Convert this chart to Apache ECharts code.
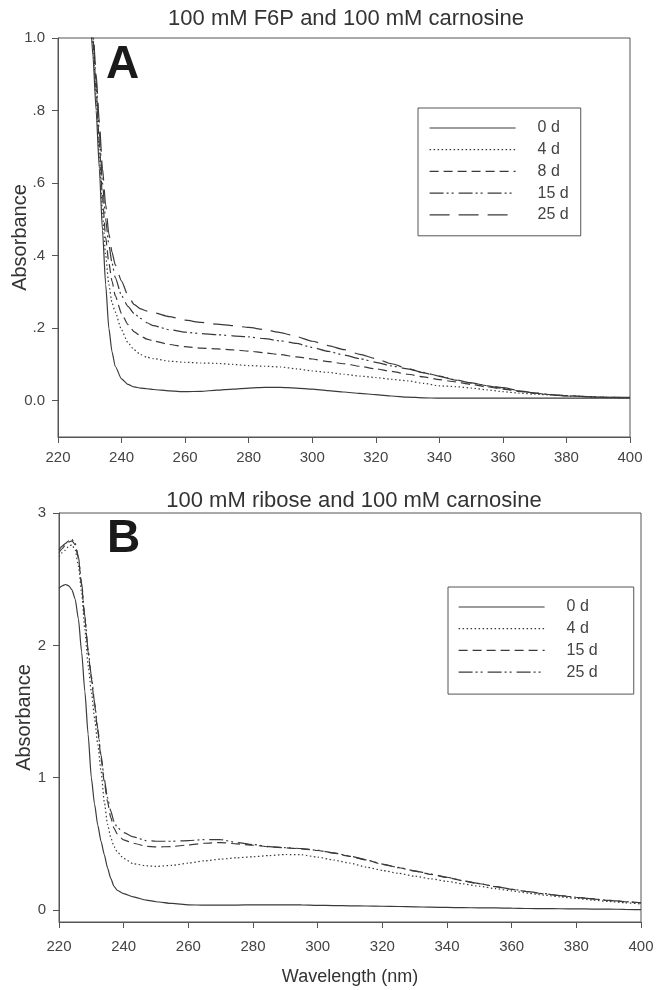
<!DOCTYPE html>
<html><head><meta charset="utf-8">
<script src="https://cdn.jsdelivr.net/npm/echarts@6/dist/echarts.min.js"></script>
<style>html,body{margin:0;padding:0;background:#fff}#c{width:657px;height:990px}</style>
</head><body><div id="c"></div>
<script>
// ---- Data ----
const titleA = '100 mM F6P and 100 mM carnosine';
const titleB = '100 mM ribose and 100 mM carnosine';
const xTicks = [220,240,260,280,300,320,340,360,380,400];
const yTicksA = [0,0.2,0.4,0.6,0.8,1.0];
const yTicksB = [0,1,2,3];
const legendA = ['0 d','4 d','8 d','15 d','25 d'];
const legendB = ['0 d','4 d','15 d','25 d'];

const wlA = [229,230,231,232,233,234,235,236,237,238,240,242,244,246,248,250,255,260,265,270,275,280,285,290,295,300,305,310,315,320,325,330,335,340,345,350,355,360,365,370,375,380,385,390,395,400];
const a0d = [1.25,1.08,0.95,0.8,0.64,0.47,0.32,0.2,0.135,0.095,0.06,0.045,0.038,0.035,0.033,0.031,0.027,0.025,0.026,0.029,0.032,0.035,0.037,0.037,0.035,0.032,0.028,0.024,0.02,0.017,0.013,0.01,0.008,0.007,0.007,0.007,0.007,0.007,0.007,0.007,0.007,0.007,0.007,0.007,0.007,0.007];
const a4d = [1.3,1.1,0.98,0.84,0.68,0.52,0.4,0.32,0.27,0.245,0.195,0.16,0.14,0.127,0.12,0.116,0.109,0.106,0.104,0.103,0.1,0.097,0.095,0.093,0.088,0.082,0.078,0.073,0.068,0.064,0.059,0.055,0.048,0.041,0.039,0.035,0.03,0.025,0.021,0.018,0.016,0.014,0.012,0.01,0.008,0.007];
const a8d = [1.3,1.12,1.0,0.86,0.71,0.56,0.45,0.38,0.33,0.29,0.24,0.21,0.19,0.178,0.17,0.165,0.155,0.149,0.145,0.143,0.14,0.137,0.132,0.127,0.121,0.115,0.108,0.102,0.095,0.088,0.081,0.073,0.066,0.058,0.052,0.045,0.038,0.032,0.026,0.021,0.017,0.014,0.012,0.01,0.009,0.008];
const a15d = [1.3,1.13,1.01,0.88,0.74,0.6,0.5,0.43,0.38,0.34,0.29,0.26,0.24,0.227,0.215,0.207,0.196,0.189,0.185,0.182,0.179,0.176,0.171,0.165,0.158,0.147,0.136,0.126,0.116,0.106,0.096,0.088,0.078,0.068,0.058,0.049,0.041,0.034,0.027,0.021,0.017,0.014,0.012,0.01,0.009,0.008];
const a25d = [1.3,1.14,1.02,0.9,0.77,0.64,0.54,0.46,0.41,0.375,0.33,0.29,0.265,0.253,0.247,0.243,0.232,0.222,0.216,0.211,0.207,0.202,0.196,0.188,0.177,0.164,0.152,0.141,0.128,0.116,0.102,0.089,0.077,0.067,0.057,0.049,0.042,0.036,0.028,0.021,0.016,0.013,0.011,0.01,0.009,0.009];

const wlB = [220,221,222,223,224,225,226,227,228,229,230,231,232,233,234,235,236,237,238,240,243,247,250,255,260,265,270,275,280,285,290,295,300,305,310,315,320,325,330,335,340,345,350,355,360,365,370,375,380,385,390,395,400];
const b0d = [2.43,2.45,2.46,2.45,2.42,2.35,2.2,1.95,1.65,1.33,1.0,0.8,0.64,0.52,0.42,0.32,0.24,0.18,0.15,0.125,0.1,0.075,0.063,0.05,0.04,0.037,0.037,0.038,0.04,0.04,0.04,0.039,0.036,0.034,0.032,0.031,0.029,0.027,0.025,0.022,0.02,0.018,0.017,0.016,0.015,0.012,0.011,0.01,0.009,0.008,0.007,0.006,0.004];
const b4d = [2.67,2.7,2.72,2.75,2.76,2.72,2.6,2.4,2.12,1.85,1.65,1.45,1.25,1.05,0.82,0.65,0.55,0.48,0.44,0.39,0.35,0.335,0.33,0.338,0.355,0.372,0.385,0.395,0.403,0.412,0.42,0.418,0.4,0.378,0.355,0.325,0.3,0.278,0.256,0.236,0.217,0.198,0.18,0.162,0.145,0.128,0.113,0.1,0.088,0.076,0.065,0.055,0.046];
const b15d = [2.7,2.73,2.76,2.78,2.79,2.76,2.66,2.45,2.2,1.95,1.75,1.55,1.35,1.15,0.97,0.82,0.7,0.62,0.575,0.53,0.505,0.482,0.477,0.48,0.492,0.505,0.51,0.5,0.49,0.478,0.47,0.463,0.45,0.43,0.406,0.378,0.346,0.32,0.295,0.27,0.246,0.221,0.199,0.177,0.157,0.139,0.123,0.109,0.096,0.084,0.073,0.063,0.054];
const b25d = [2.72,2.75,2.77,2.79,2.8,2.77,2.67,2.47,2.22,1.97,1.77,1.57,1.37,1.17,0.99,0.85,0.75,0.67,0.625,0.585,0.553,0.525,0.52,0.52,0.525,0.533,0.532,0.51,0.495,0.48,0.472,0.465,0.452,0.432,0.408,0.38,0.348,0.322,0.297,0.272,0.248,0.222,0.2,0.178,0.158,0.14,0.124,0.11,0.097,0.085,0.074,0.064,0.055];

// ---- Styles ----
const FONT = 'Liberation Sans, Arial, sans-serif';
const AX = '#555';
const TXT = '#444';
const LINE = '#3a3a3a';
const LW = 1.2;
const dashes = {
  solid: 'solid',
  dot: [1.5, 2.5],
  dash: [9, 5],
  dashDotDot: [14, 3, 2, 3, 2, 5],
  longDash: [20, 9]
};
const stylesA = [dashes.solid, dashes.dot, dashes.dash, dashes.dashDotDot, dashes.longDash];
const stylesB = [dashes.solid, dashes.dot, dashes.dash, dashes.dashDotDot];

function pairs(xs, ys){ return xs.map((x,i)=>[x, ys[i]]); }
function mkSeries(prefix, names, xs, ys, styles, idx){
  return names.map((n,i)=>({
    type:'line', name: prefix + n, xAxisIndex: idx, yAxisIndex: idx,
    data: pairs(xs, ys[i]), symbol:'none', smooth:0.2, smoothMonotone:'x',
    clip:true, silent:true, color: LINE,
    itemStyle:{color:LINE},
    lineStyle:{color:LINE, width:LW, type: styles[i]}
  }));
}
const seriesA = mkSeries('A:', legendA, wlA, [a0d,a4d,a8d,a15d,a25d], stylesA, 0);
const seriesB = mkSeries('B:', legendB, wlB, [b0d,b4d,b15d,b25d], stylesB, 1);

function xAxisCfg(idx, withName, margin){
  return {
    type:'value', gridIndex: idx, min:220, max:400, interval:20,
    axisLine:{show:true, onZero:false, lineStyle:{color:AX, width:1}},
    axisTick:{show:true, inside:false, length:6, lineStyle:{color:AX}},
    axisLabel:{color:TXT, fontSize:15, fontFamily:FONT, margin:margin},
    splitLine:{show:false},
    name: withName ? 'Wavelength (nm)' : '',
    nameLocation:'middle', nameGap:46, nameMoveOverlap:false,
    nameTextStyle:{color:'#333', fontSize:18, fontFamily:FONT}
  };
}
function yAxisCfg(idx, min, max, ticks, fmt, gap){
  return {
    type:'value', gridIndex: idx, min:min, max:max,
    axisLine:{show:true, onZero:false, lineStyle:{color:AX, width:1}},
    axisTick:{show:true, inside:false, length:6, lineStyle:{color:AX}, customValues: ticks},
    axisLabel:{color:TXT, fontSize:15, fontFamily:FONT, margin:13, customValues: ticks, formatter: fmt},
    splitLine:{show:false},
    name:'Absorbance', nameLocation:'middle', nameGap:gap, nameRotate:90, nameMoveOverlap:false,
    nameTextStyle:{color:'#333', fontSize:20, fontFamily:FONT}
  };
}
const fmtA = v => (Math.abs(v) < 1e-9 ? '0.0' : (Math.abs(v-1) < 1e-9 ? '1.0' : '.' + Math.round(v*10)));
const fmtB = v => String(Math.round(v));

function legendCfg(prefix, names, styles, left, top, padding){
  return {
    orient:'vertical', left:left, top:top,
    data: names.map((n,i)=>({name: prefix+n, lineStyle:{color:LINE, width:LW, type:styles[i]}})),
    formatter: name => name.slice(prefix.length),
    itemWidth:86, itemHeight:14, itemGap:5.7,
    itemStyle:{opacity:0},
    selectedMode:false,
    backgroundColor:'#fff', borderColor:AX, borderWidth:1, borderRadius:0,
    padding: padding,
    textStyle:{color:TXT, fontSize:16, fontFamily:FONT, lineHeight:16, padding:[0,0,0,17]}
  };
}

const chart = echarts.init(document.getElementById('c'), null, {renderer:'canvas'});
chart.setOption({
  backgroundColor:'#fff',
  animation:false,
  title:[
    {text:titleA, left:341, top:3, textAlign:'center', textStyle:{fontSize:22, fontWeight:'normal', color:'#333', fontFamily:FONT}},
    {text:titleB, left:349, top:485, textAlign:'center', textStyle:{fontSize:22, fontWeight:'normal', color:'#333', fontFamily:FONT}}
  ],
  grid:[
    {left:58, right:27, top:38, bottom:553, show:true, borderColor:AX, borderWidth:1, backgroundColor:'transparent', outerBoundsMode:'none', containLabel:false},
    {left:59, right:16, top:513, bottom:68, show:true, borderColor:AX, borderWidth:1, backgroundColor:'transparent', outerBoundsMode:'none', containLabel:false}
  ],
  xAxis:[xAxisCfg(0,false,13), xAxisCfg(1,true,17)],
  yAxis:[yAxisCfg(0,-0.1,1.0,yTicksA,fmtA,28), yAxisCfg(1,-0.09,3,yTicksB,fmtB,25)],
  legend:[
    legendCfg('A:', legendA, stylesA, 418, 108, [12,12,13,11]),
    legendCfg('B:', legendB, stylesB, 448, 587, [12,36,14,10])
  ],
  graphic:[
    {type:'text', left:106, top:42, style:{text:'A', font:'bold 46px ' + FONT, fill:'#1a1a1a'}},
    {type:'text', left:107, top:516, style:{text:'B', font:'bold 46px ' + FONT, fill:'#1a1a1a'}}
  ],
  series: seriesA.concat(seriesB)
});
</script></body></html>
